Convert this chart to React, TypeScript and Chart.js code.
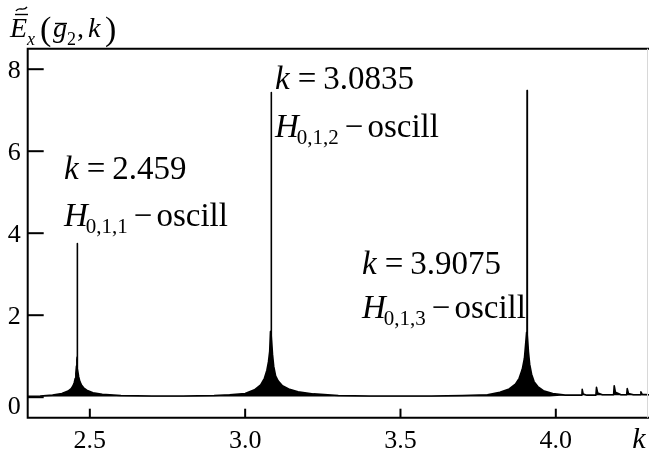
import React, { useEffect, useRef } from "react";
import { Chart, registerables } from "chart.js";

Chart.register(...registerables);

// wave number k and field amplitude (upper envelope of the oscillating curve)
const kValues = [
  2.3, 2.34, 2.38, 2.41, 2.43, 2.44, 2.446, 2.45, 2.453, 2.455, 2.457, 2.4582, 2.4588, 2.459, 2.4592, 2.46,
  2.4615, 2.464, 2.468, 2.473, 2.48, 2.49, 2.51, 2.54, 2.6, 2.7, 2.8, 2.9, 2.95, 3.0, 3.03, 3.05, 3.062,
  3.07, 3.075, 3.079, 3.0815, 3.0832, 3.0835, 3.0838, 3.0855, 3.088, 3.092, 3.098, 3.106, 3.12, 3.14, 3.17,
  3.22, 3.3, 3.4, 3.5, 3.6, 3.7, 3.78, 3.82, 3.85, 3.87, 3.882, 3.892, 3.899, 3.9035, 3.906, 3.9072,
  3.9075, 3.9078, 3.909, 3.912, 3.916, 3.922, 3.93, 3.942, 3.96, 3.99, 4.03, 4.08, 4.084, 4.085, 4.088,
  4.1, 4.129, 4.131, 4.135, 4.15, 4.186, 4.188, 4.192, 4.21, 4.228, 4.23, 4.234, 4.25, 4.272, 4.274,
  4.278, 4.3,
];
const eValues = [
  0.02, 0.03, 0.05, 0.09, 0.15, 0.21, 0.28, 0.36, 0.46, 0.58, 0.76, 0.92, 0.98, 3.75, 0.98, 0.93,
  0.7, 0.5, 0.38, 0.3, 0.23, 0.17, 0.11, 0.07, 0.04, 0.03, 0.03, 0.04, 0.06, 0.09, 0.18, 0.3, 0.46,
  0.66, 0.86, 1.12, 1.6, 1.38, 7.43, 1.42, 1.5, 1.05, 0.75, 0.52, 0.4, 0.28, 0.2, 0.13,
  0.08, 0.04, 0.03, 0.03, 0.03, 0.04, 0.06, 0.12, 0.2, 0.32, 0.46, 0.68, 0.95, 1.35, 1.58, 1.38,
  7.48, 1.42, 1.52, 1.1, 0.8, 0.56, 0.38, 0.26, 0.16, 0.09, 0.05, 0.05, 0.05, 0.19, 0.08,
  0.05, 0.05, 0.24, 0.1, 0.06, 0.06, 0.28, 0.12, 0.06, 0.06, 0.21, 0.09, 0.06, 0.06, 0.13,
  0.07, 0.06,
];
// lower envelope (baseline) of the oscillations
const baseK = [2.3, 3.98, 4.04, 4.3];
const baseE = [0.02, 0.02, 0.05, 0.05];

const xTicks = [2.5, 3.0, 3.5, 4.0];
const xTickLabels = ["2.5", "3.0", "3.5", "4.0"];
const yTicks = [0, 2, 4, 6, 8];
const yTickLabels = ["0", "2", "4", "6", "8"];

const peakLabels = ["2.459", "3.0835", "3.9075"];
const modeLabels = ["0,1,1", "0,1,2", "0,1,3"];

const SERIF = '"Liberation Serif", "Times New Roman", serif';

const decorPlugin = {
  id: "decor",
  afterDraw(chart: any) {
    const ctx = chart.ctx as CanvasRenderingContext2D;
    const { left, top, bottom } = chart.chartArea;
    const xs = chart.scales.x;
    const ys = chart.scales.y;
    ctx.save();
    ctx.strokeStyle = "#000";
    ctx.fillStyle = "#000";
    ctx.lineWidth = 2;
    // frame
    ctx.beginPath();
    ctx.moveTo(chart.width, top);
    ctx.lineTo(left, top);
    ctx.lineTo(left, bottom);
    ctx.lineTo(chart.width, bottom);
    ctx.stroke();
    ctx.strokeStyle = "#d8d8d8";
    ctx.lineWidth = 1;
    ctx.beginPath();
    ctx.moveTo(chart.width - 1.5, top);
    ctx.lineTo(chart.width - 1.5, bottom);
    ctx.stroke();

    // ticks
    ctx.strokeStyle = "#000";
    ctx.lineWidth = 2;
    ctx.font = `26px ${SERIF}`;
    ctx.textAlign = "center";
    ctx.textBaseline = "alphabetic";
    xTicks.forEach((v, i) => {
      const px = xs.getPixelForValue(v);
      ctx.beginPath();
      ctx.moveTo(px, bottom);
      ctx.lineTo(px, bottom - 9);
      ctx.stroke();
      ctx.fillText(xTickLabels[i], px, bottom + 30);
    });
    ctx.textAlign = "right";
    yTicks.forEach((v, i) => {
      const py = ys.getPixelForValue(v);
      ctx.beginPath();
      ctx.moveTo(left, py);
      ctx.lineTo(left + 16, py);
      ctx.stroke();
      const off = i === 0 ? 17 : 8.5;
      ctx.fillText(yTickLabels[i], left - 7, py + off);
    });

    // x axis title
    ctx.textAlign = "center";
    ctx.font = `italic 30px ${SERIF}`;
    ctx.fillText("k", 639, bottom + 30);

    // y axis title  E~(g2, k)
    ctx.textAlign = "left";
    ctx.font = `italic 28px ${SERIF}`;
    ctx.fillText("E", 10, 37);
    ctx.lineWidth = 1.4;
    ctx.beginPath();
    ctx.moveTo(15, 14.5);
    ctx.lineTo(28, 14.5);
    ctx.stroke();
    ctx.beginPath();
    ctx.moveTo(16, 11);
    ctx.bezierCurveTo(19, 5.5, 23, 12.5, 27, 7);
    ctx.stroke();
    ctx.font = `italic 18px ${SERIF}`;
    ctx.fillText("x", 27, 45);
    ctx.font = `34px ${SERIF}`;
    ctx.fillText("(", 40, 40);
    ctx.font = `italic 28px ${SERIF}`;
    ctx.fillText("g", 53, 37);
    ctx.beginPath();
    ctx.moveTo(55, 23.5);
    ctx.lineTo(67, 23.5);
    ctx.stroke();
    ctx.font = `18px ${SERIF}`;
    ctx.fillText("2", 67, 45);
    ctx.font = `28px ${SERIF}`;
    ctx.fillText(",", 77, 37);
    ctx.font = `italic 28px ${SERIF}`;
    ctx.fillText("k", 88, 37);
    ctx.font = `34px ${SERIF}`;
    ctx.fillText(")", 105, 40);

    // peak annotations
    const pos = [
      [64, 179, 226],
      [275, 89, 137],
      [362, 274, 318],
    ];
    const F = 33;
    const S = 21;
    peakLabels.forEach((lab, i) => {
      const [x, y1, y2] = pos[i];
      ctx.font = `italic ${F}px ${SERIF}`;
      ctx.fillText("k", x, y1);
      let cx = x + ctx.measureText("k").width + 8;
      ctx.font = `${F}px ${SERIF}`;
      ctx.fillText("=", cx, y1);
      cx += ctx.measureText("=").width + 7;
      ctx.fillText(lab, cx, y1);

      ctx.font = `italic ${F}px ${SERIF}`;
      ctx.fillText("H", x, y2);
      cx = x + ctx.measureText("H").width - 2;
      ctx.font = `${S}px ${SERIF}`;
      ctx.fillText(modeLabels[i], cx, y2 + 7);
      cx += ctx.measureText(modeLabels[i]).width + 6;
      ctx.font = `${F}px ${SERIF}`;
      ctx.fillText("\u2212", cx, y2);
      cx += ctx.measureText("\u2212").width + 4;
      ctx.fillText("oscill", cx, y2);
    });
    ctx.restore();
  },
};

export default function App() {
  const ref = useRef<HTMLCanvasElement | null>(null);
  useEffect(() => {
    if (!ref.current) return;
    const chart = new Chart(ref.current, {
      type: "line",
      data: {
        datasets: [
          {
            data: baseK.map((k, i) => ({ x: k, y: baseE[i] })),
            borderColor: "rgba(0,0,0,0)",
            borderWidth: 0,
            pointRadius: 0,
            fill: false,
          },
          {
            data: kValues.map((k, i) => ({ x: k, y: eValues[i] })),
            borderColor: "#000",
            backgroundColor: "#000",
            borderWidth: 1.6,
            borderJoinStyle: "round",
            pointRadius: 0,
            tension: 0,
            fill: "-1",
          },
        ],
      },
      options: {
        animation: false,
        responsive: false,
        devicePixelRatio: 1,
        layout: { padding: { left: 27.7, top: 48.7, right: 0, bottom: 37.3 } },
        plugins: { legend: { display: false }, tooltip: { enabled: false } },
        scales: {
          x: { type: "linear", display: false, min: 2.3, max: 4.3 },
          y: { type: "linear", display: false, min: -0.5, max: 8.5 },
        },
      },
      plugins: [decorPlugin],
    } as any);
    return () => chart.destroy();
  }, []);
  return (
    <div style={{ position: "fixed", left: 0, top: 0, width: 649, height: 455, background: "#fff" }}>
      <canvas ref={ref} width={649} height={455} style={{ width: 649, height: 455, display: "block" }} />
    </div>
  );
}
